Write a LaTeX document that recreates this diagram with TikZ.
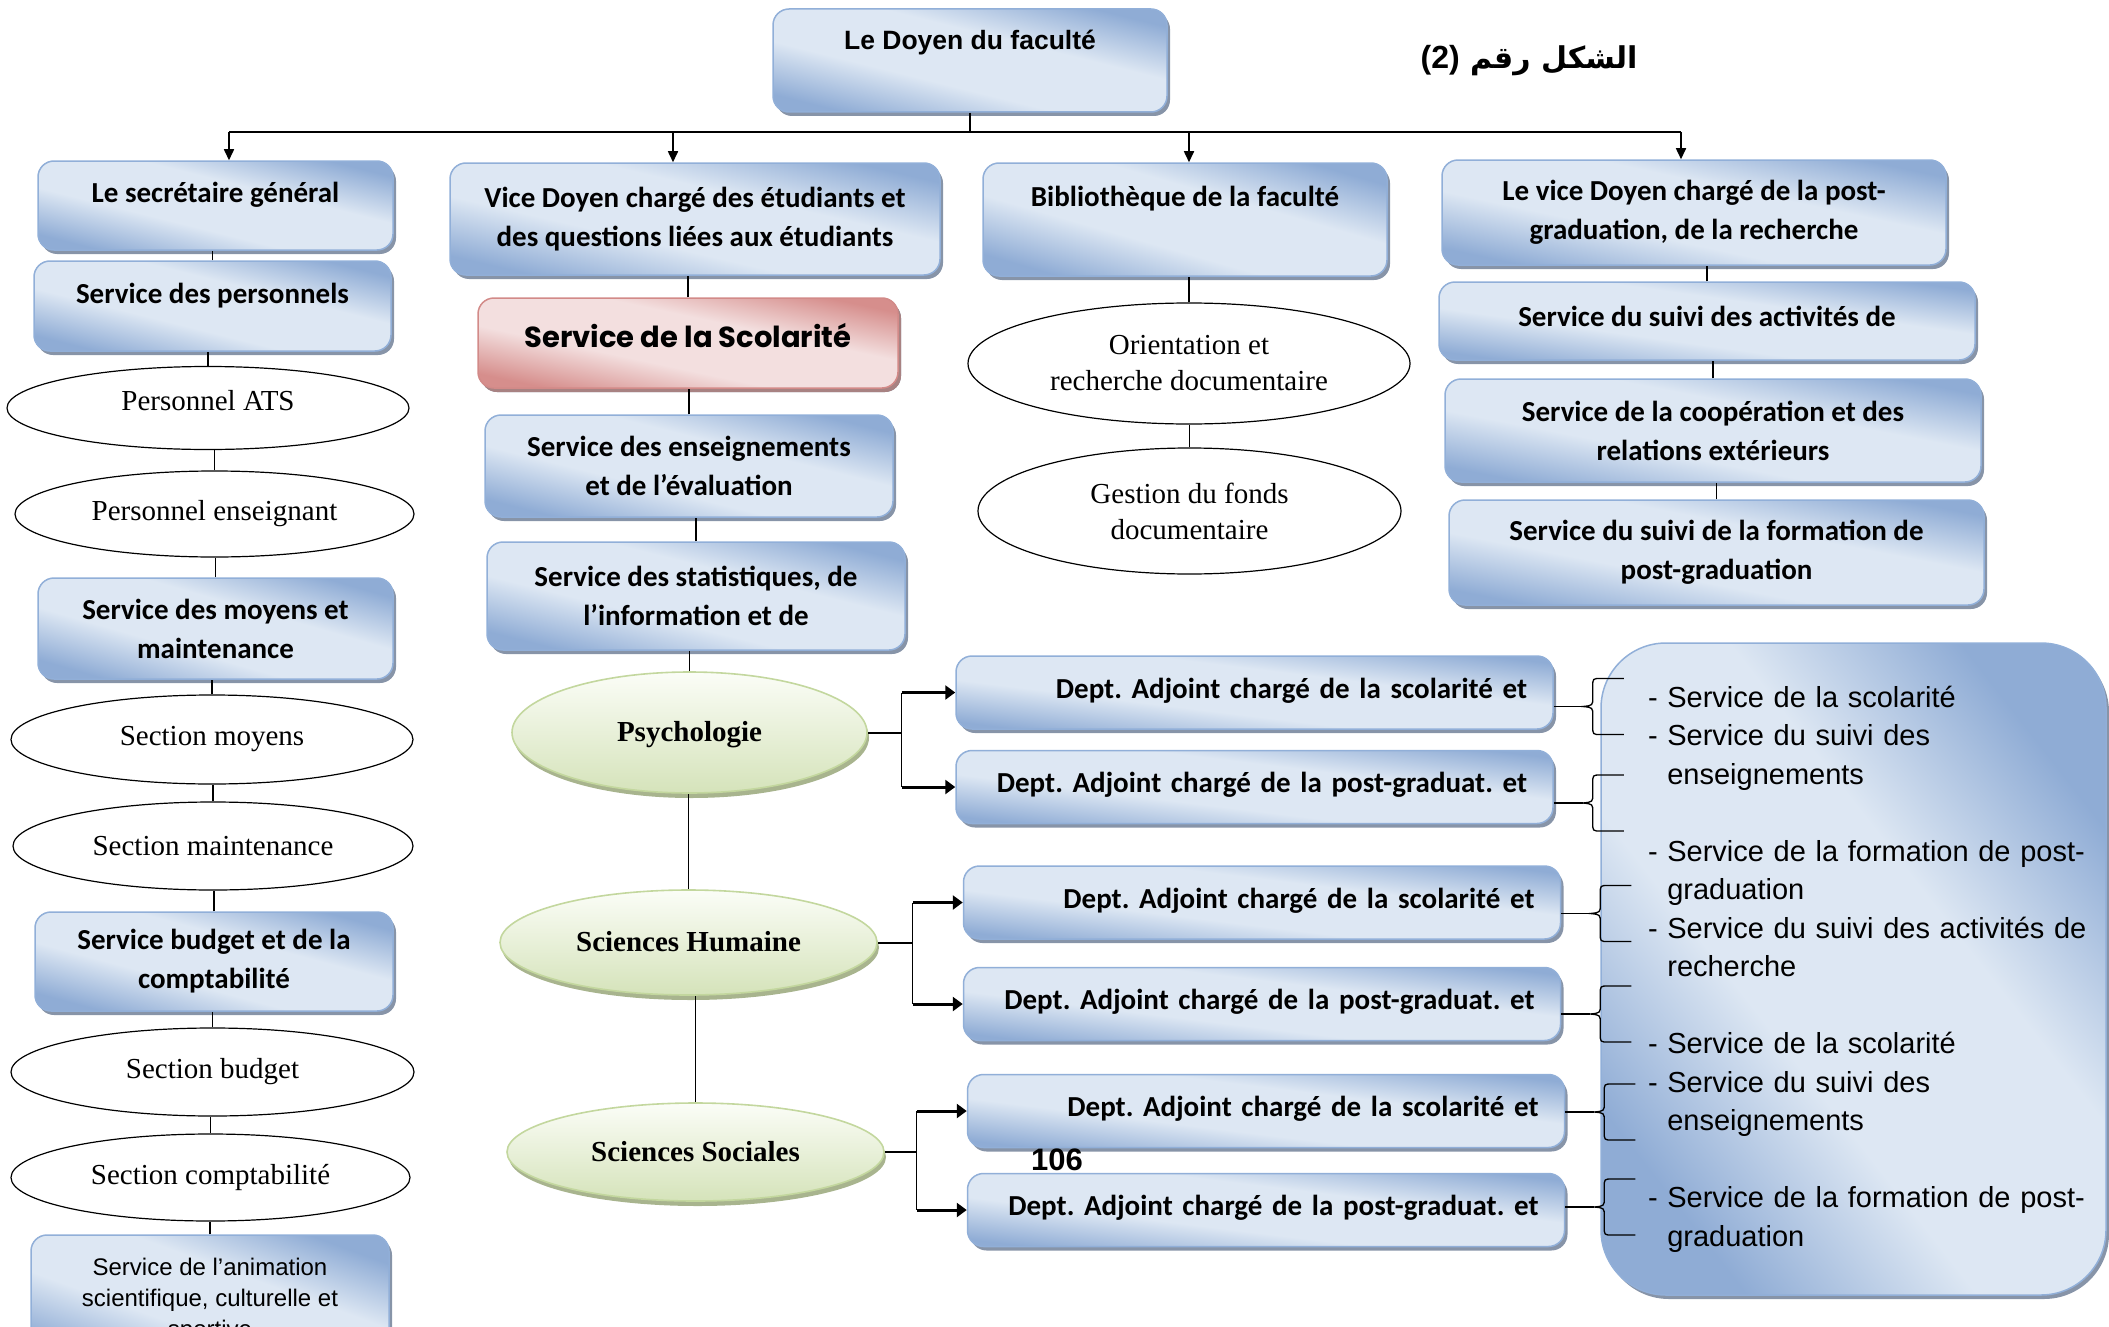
\documentclass[tikz,border=0pt]{standalone}
\usepackage{fontspec}
\setmainfont{Liberation Serif}
\newfontfamily\calibri{Carlito}
\newfontfamily\arial{Liberation Sans}
\newfontfamily\comic{Poppins}
\newfontfamily\arabicfont[Script=Arabic]{DejaVu Sans}
\TeXXeTstate=1
\usetikzlibrary{shapes.geometric,shadows,arrows.meta}

\definecolor{boxdark}{RGB}{143,172,213}
\definecolor{boxlight}{RGB}{221,231,243}
\definecolor{boxedge}{RGB}{145,175,216}
\definecolor{boxshadow}{RGB}{135,148,168}
\definecolor{reddark}{RGB}{214,142,140}
\definecolor{redlight}{RGB}{243,223,223}
\definecolor{rededge}{RGB}{210,138,136}
\definecolor{redshadow}{RGB}{168,130,130}
\definecolor{grndark}{RGB}{213,227,186}
\definecolor{grnlight}{RGB}{251,253,247}
\definecolor{grnedge}{RGB}{195,215,158}
\definecolor{grnshadow}{RGB}{168,180,142}

\pgfdeclareverticalshading{wordblue}{100bp}{color(0bp)=(boxdark); color(25bp)=(boxdark);
  color(41bp)=(boxlight); color(59bp)=(boxlight); color(75bp)=(boxdark); color(100bp)=(boxdark)}
\pgfdeclareverticalshading{wordred}{100bp}{color(0bp)=(reddark); color(25bp)=(reddark);
  color(41bp)=(redlight); color(59bp)=(redlight); color(75bp)=(reddark); color(100bp)=(reddark)}

\begin{document}
\begin{tikzpicture}[x=1pt,y=-1pt,
  bluebox/.style={rectangle, rounded corners=16pt, draw=boxedge, line width=1.5pt,
    shading=wordblue, shading angle=-14,
    drop shadow={shadow xshift=3pt, shadow yshift=-4pt, fill=boxshadow, opacity=1},
    align=center, inner sep=0pt, font=\calibri\bfseries\fontsize{29}{39}\selectfont},
  redbox/.style={bluebox, draw=rededge, shading=wordred, shading angle=-12,
    drop shadow={shadow xshift=3pt, shadow yshift=-4pt, fill=redshadow, opacity=1},
    font=\comic\bfseries\fontsize{29}{34}\selectfont},
  deptbox/.style={bluebox, shading angle=-7, minimum width=597pt, minimum height=73pt,
    text width=545pt, align=right, text height=22pt, text depth=11pt},
  plainell/.style={ellipse, draw, line width=1.2pt, fill=white, inner sep=0pt,
    align=center, font=\fontsize{29}{36}\selectfont},
  greenell/.style={ellipse, draw=grnedge, line width=1.6pt, inner sep=0pt,
    top color=grnlight, bottom color=grndark, text height=20pt, text depth=2pt,
    drop shadow={shadow xshift=2pt, shadow yshift=-5pt, fill=grnshadow, opacity=1},
    font=\bfseries\fontsize{29}{36}\selectfont},
  uptext/.style={text height=22pt, text depth=#1},
  link/.style={line width=1.3pt},
  arr/.style={line width=1.6pt, -{Triangle[length=11pt,width=10pt]}},
  deptarr/.style={line width=3pt, -{Triangle[length=10pt,width=14pt]}}]
\useasboundingbox (0,0) rectangle (2109,1327);

% sommet
\node[bluebox, minimum width=394pt, minimum height=103pt, uptext=44pt,
  font=\arial\bfseries\fontsize{26.5}{32}\selectfont] (doyen) at (970,60.5) {Le Doyen du faculté};
\node (titre) at (1529,61) {\arabicfont\bfseries\fontsize{30}{36}\selectfont\beginR الشكل رقم \beginL{\arial\bfseries\fontsize{32}{36}\selectfont(2)}\endL\endR};

% colonne secretaire general
\node[bluebox, minimum width=355pt, minimum height=89pt, uptext=29pt] (sec) at (215.5,205.5) {Le secrétaire général};
\node[bluebox, minimum width=357pt, minimum height=90pt, uptext=28pt] (pers) at (212.5,306) {Service des personnels};
\node[plainell, minimum width=402pt, minimum height=83pt, text depth=16pt] (ats) at (208,408) {Personnel ATS};
\node[plainell, minimum width=399pt, minimum height=86pt] (ens) at (214.5,514) {Personnel enseignant};
\node[bluebox, shading angle=-16, minimum width=355pt, minimum height=101pt] (moy) at (215.5,628.5) {Service des moyens et\\maintenance};
\node[plainell, minimum width=402pt, minimum height=89pt] (secmoy) at (212,739.5) {Section moyens};
\node[plainell, minimum width=400pt, minimum height=88pt] (secmain) at (213,846) {Section maintenance};
\node[bluebox, shading angle=-15, minimum width=358pt, minimum height=99pt] (budg) at (214,961.5) {Service budget et de la\\comptabilité};
\node[plainell, minimum width=403pt, minimum height=88pt] (secbud) at (212.5,1072) {Section budget};
\node[plainell, minimum width=399pt, minimum height=87pt] (seccpt) at (210.5,1177.5) {Section comptabilité};
\node[bluebox, shading angle=-20, minimum width=358pt, minimum height=130pt,
  font=\arial\fontsize{24}{31}\selectfont] (anim) at (210,1300) {Service de l’animation\\scientifique, culturelle et\\sportive};

% colonne vice doyen etudiants
\node[bluebox, shading angle=-13, minimum width=490pt, minimum height=112pt] (vdoyen) at (695,219) {Vice Doyen chargé des étudiants et\\des questions liées aux étudiants};
\node[redbox, minimum width=420pt, minimum height=90pt, uptext=14pt] (scol) at (688,343) {Service de la Scolarité};
\node[bluebox, minimum width=408pt, minimum height=102pt] (enseig) at (689,466) {Service des enseignements\\et de l’évaluation};
\node[bluebox, minimum width=418pt, minimum height=108pt] (stats) at (696,596) {Service des statistiques, de\\l’information et de};
\node[greenell, minimum width=355pt, minimum height=121pt] (psy) at (689.5,732.5) {Psychologie};
\node[greenell, minimum width=377pt, minimum height=105pt] (hum) at (688.5,942.5) {Sciences Humaine};
\node[greenell, minimum width=377pt, minimum height=98pt] (soc) at (695.5,1152) {Sciences Sociales};

% bibliotheque
\node[bluebox, shading angle=-16, minimum width=404pt, minimum height=113pt, uptext=49pt] (bib) at (1185,219.5) {Bibliothèque de la faculté};
\node[plainell, minimum width=442pt, minimum height=121pt] (ori) at (1189,363.5) {Orientation et\\recherche documentaire};
\node[plainell, minimum width=423pt, minimum height=126pt] (gest) at (1189.5,511) {Gestion du fonds\\documentaire};

% vice doyen post-graduation
\node[bluebox, shading angle=-12, minimum width=504pt, minimum height=105pt] (vdpg) at (1694,212.5) {Le vice Doyen chargé de la post-\\graduation, de la recherche};
\node[bluebox, shading angle=-8, minimum width=536pt, minimum height=78pt, uptext=12pt] (suivi) at (1707,321) {Service du suivi des activités de};
\node[bluebox, shading angle=-11, minimum width=536pt, minimum height=103pt] (coop) at (1713,430.5) {Service de la coopération et des\\relations extérieurs};
\node[bluebox, shading angle=-11, minimum width=535pt, minimum height=105pt] (form) at (1716.5,552.5) {Service du suivi de la formation de\\post-graduation};

% departements
\node[deptbox] (d1) at (1254.5,692.5) {Dept.\ Adjoint chargé de la scolarité et};
\node[deptbox] (d2) at (1254.5,787) {Dept.\ Adjoint chargé de la post-graduat.\ et};
\node[deptbox] (d3) at (1262,902.5) {Dept.\ Adjoint chargé de la scolarité et};
\node[deptbox] (d4) at (1262,1004) {Dept.\ Adjoint chargé de la post-graduat.\ et};
\node[deptbox] (d5) at (1266,1111) {Dept.\ Adjoint chargé de la scolarité et};
\node[deptbox] (d6) at (1266,1210) {Dept.\ Adjoint chargé de la post-graduat.\ et};
\node[font=\arial\bfseries\fontsize{31}{36}\selectfont] (page) at (1057,1160) {106};

% services des departements
\node[bluebox, shading angle=-52, rounded corners=65pt, minimum width=505pt, minimum height=652pt,
  text width=411pt, align=left, font=\arial\fontsize{29}{38.5}\selectfont] (svc) at (1853.5,969)
  {\mbox{- Service de la scolarité}\\
   \mbox{- Service du suivi des}\\
   \mbox{\phantom{- }enseignements}\\ ~\\
   \mbox{- Service de la formation de post-}\\
   \mbox{\phantom{- }graduation}\\
   \mbox{- Service du suivi des activités de}\\
   \mbox{\phantom{- }recherche}\\ ~\\
   \mbox{- Service de la scolarité}\\
   \mbox{- Service du suivi des}\\
   \mbox{\phantom{- }enseignements}\\ ~\\
   \mbox{- Service de la formation de post-}\\
   \mbox{\phantom{- }graduation}};

% liaisons
\coordinate (bar) at (970,132);
\draw[link] (doyen.south) -- (bar);
\draw[line width=1.8pt] (229,132) coordinate (barL) -- (1681,132) coordinate (barR);
\foreach \n/\x in {sec/229, vdoyen/673, bib/1189, vdpg/1681} {
  \coordinate (haut) at (\x,132);
  \draw[arr] (haut) -- (haut |- \n.north);
}
\foreach \a/\b in {sec/pers, pers/ats, ats/ens, ens/moy, moy/secmoy, secmoy/secmain,
  secmain/budg, budg/secbud, secbud/seccpt, seccpt/anim,
  vdoyen/scol, scol/enseig, enseig/stats, stats/psy, psy/hum, hum/soc,
  bib/ori, ori/gest, vdpg/suivi, suivi/coop, coop/form}
  \draw[link] (\b.north) -- (\b.north |- \a.south);

\foreach \f/\u/\v/\dx in {psy/d1/d2/34, hum/d3/d4/35, soc/d5/d6/32} {
  \draw[line width=2pt] (\f.east) -- ++(\dx,0) coordinate (nd);
  \draw[link] (nd |- \u.west) -- (nd |- \v.west);
  \draw[deptarr] (nd |- \u.west) -- (\u.west);
  \draw[deptarr] (nd |- \v.west) -- (\v.west);
}

\foreach \d/\dy in {d1/-14, d2/-16, d3/-11, d4/-10, d5/-1, d6/3} {
  \draw[link] ([yshift=\dy pt]\d.east) -- ++(29,0) coordinate (tip);
  \draw[link, shift={(tip)}] (41,-28) -- (18,-28) .. controls (10,-28) .. (10,-20) -- (10,-9)
    .. controls (10,-1) .. (0,0) .. controls (10,1) .. (10,9) -- (10,20)
    .. controls (10,28) .. (18,28) -- (41,28);
}
\end{tikzpicture}
\end{document}
